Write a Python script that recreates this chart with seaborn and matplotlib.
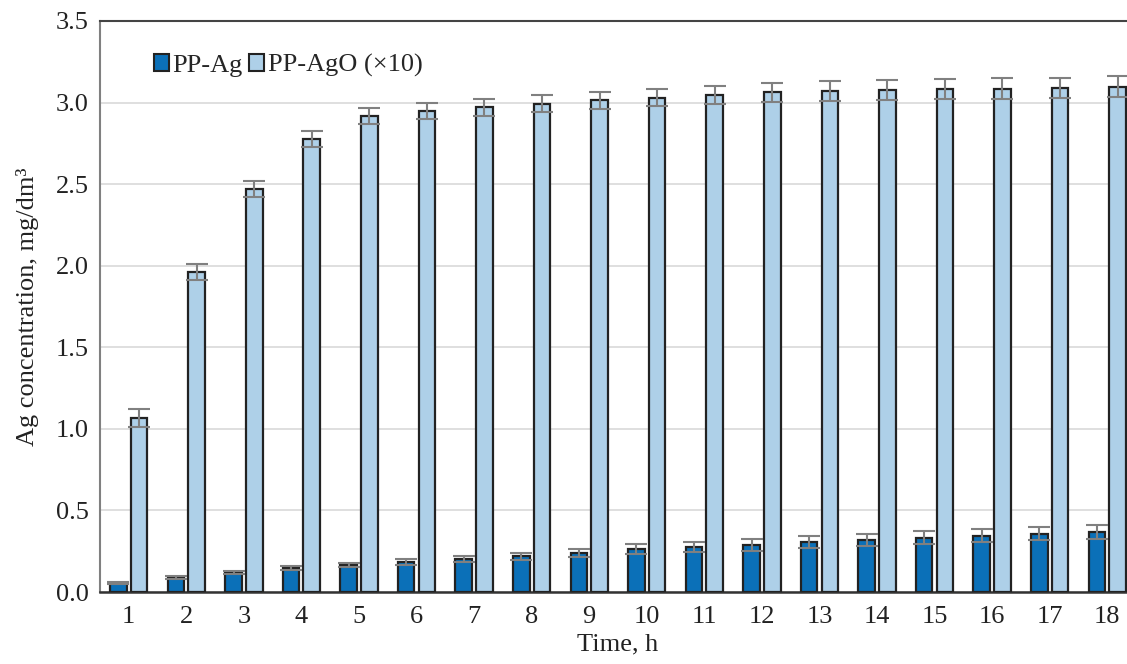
import matplotlib
matplotlib.use('Agg')
import matplotlib.pyplot as plt
import seaborn as sns
import pandas as pd
import numpy as np

# Data
hours = list(range(1, 19))
pp_ag = [0.055, 0.088, 0.118, 0.145, 0.165, 0.184, 0.202, 0.219, 0.239, 0.262,
         0.276, 0.288, 0.306, 0.321, 0.333, 0.346, 0.356, 0.368]
pp_ag_err = [0.005, 0.008, 0.010, 0.012, 0.014, 0.017, 0.020, 0.022, 0.025, 0.032,
             0.033, 0.034, 0.035, 0.037, 0.038, 0.039, 0.040, 0.042]
pp_ago = [1.065, 1.962, 2.471, 2.775, 2.918, 2.949, 2.972, 2.994, 3.014, 3.029,
          3.049, 3.064, 3.070, 3.076, 3.082, 3.086, 3.090, 3.096]
pp_ago_err = [0.055, 0.050, 0.050, 0.050, 0.050, 0.050, 0.052, 0.052, 0.052, 0.053,
              0.055, 0.058, 0.060, 0.060, 0.062, 0.062, 0.063, 0.064]
series = ['PP-Ag', 'PP-AgO (\u00d710)']
colors = ['#0B70B8', '#AED0E8']

df = pd.DataFrame({
    'time': hours * 2,
    'value': pp_ag + pp_ago,
    'series': [series[0]] * len(hours) + [series[1]] * len(hours),
})

sns.set_theme(style='white')
plt.rcParams['font.family'] = ['Liberation Serif', 'DejaVu Serif']

fig = plt.figure(figsize=(11.27, 6.64), dpi=100)
ax = fig.add_axes([0.0887, 0.1084, 0.9193, 0.86])

sns.barplot(data=df, x='time', y='value', hue='series', palette=colors,
            saturation=1, width=0.72, gap=0.2, edgecolor='#222222', linewidth=1.6,
            errorbar=None, ax=ax, zorder=3)

# error bars at the bar centres seaborn computed
for cont, errs in zip(ax.containers, [pp_ag_err, pp_ago_err]):
    xs = [p.get_x() + p.get_width() / 2 for p in cont.patches]
    ys = [p.get_height() for p in cont.patches]
    ax.errorbar(xs, ys, yerr=errs, fmt='none', ecolor='#808080',
                elinewidth=1.5, capsize=8, capthick=1.5, zorder=4)

ax.set_ylim(0, 3.5)
ax.set_xlim(-0.5, 17.5)
ax.set_yticks(np.arange(0, 3.51, 0.5))
ax.set_yticklabels([f'{v:.1f}' for v in np.arange(0, 3.51, 0.5)])
ax.yaxis.grid(True, color='#D9D9D9', linewidth=1.2, zorder=0)
ax.set_axisbelow(True)
ax.tick_params(axis='both', labelsize=19, colors='#222222', length=0)
ax.tick_params(axis='x', pad=10)
ax.tick_params(axis='y', pad=8)

ax.set_xlabel('Time, h', fontsize=19, color='#222222', labelpad=4)
ax.set_ylabel('Ag concentration, mg/dm\u00b3', fontsize=19, color='#222222', labelpad=12)

ax.spines['left'].set_color('#808080')
ax.spines['left'].set_linewidth(1.5)
ax.spines['bottom'].set_color('#333333')
ax.spines['bottom'].set_linewidth(1.8)
ax.spines['top'].set_color('#444444')
ax.spines['top'].set_linewidth(1.5)
ax.spines['right'].set_visible(False)

leg = ax.legend(loc='upper left', bbox_to_anchor=(0.042, 0.96), ncol=2, frameon=False,
                fontsize=19, handlelength=0.55, handleheight=0.6, handletextpad=0.15,
                columnspacing=0.25, borderaxespad=0)
for h in leg.legend_handles:
    h.set_edgecolor('#222222')
    h.set_linewidth(1.5)

fig.savefig('out.png', dpi=100)
